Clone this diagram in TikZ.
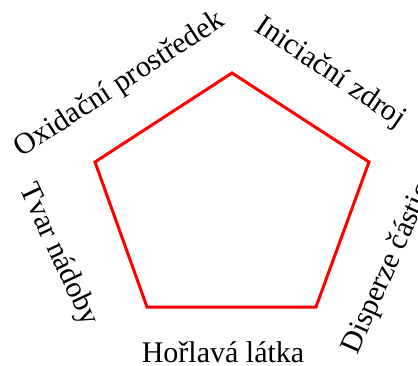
\documentclass[tikz,border=0pt]{standalone}
\usepackage{fontspec}
\setmainfont{Liberation Serif}
\begin{document}
\begin{tikzpicture}[x=1pt,y=1pt,
  lbl/.style={inner sep=0pt,font=\fontsize{30}{36}\selectfont},
  pent/.style={draw=red,line width=3pt,line join=miter}]
\useasboundingbox (0,0) rectangle (418,365);
\coordinate (t) at (232,292);
\coordinate (l) at (95,203);
\coordinate (r) at (369,203);
\coordinate (bl) at (147,58);
\coordinate (br) at (316,58);
\draw[pent] (t) -- (r) -- (br) -- (bl) -- (l) -- cycle;
\node[lbl,rotate=33] (ox) at (120,280) {Oxidační prostředek};
\node[lbl,rotate=-34] (in) at (330,292) {Iniciační zdroj};
\node[lbl,rotate=-65] (tv) at (58,110) {Tvar nádoby};
\node[lbl,rotate=66] (di) at (388,96) {Disperze částic};
\node[lbl,anchor=base] (ho) at (223,3) {Hořlavá látka};
\end{tikzpicture}
\end{document}
